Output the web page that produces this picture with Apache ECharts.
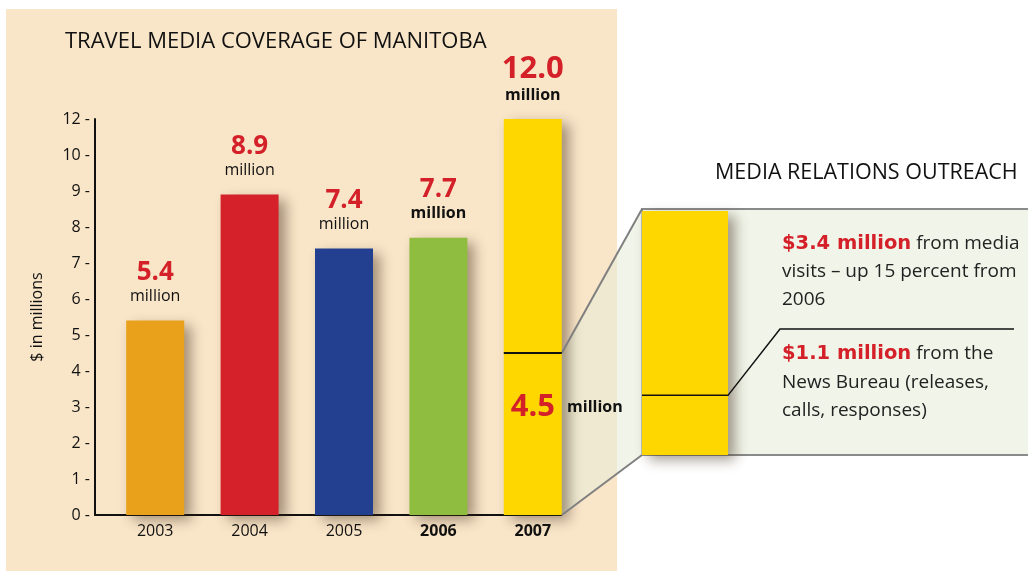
<!DOCTYPE html>
<html>
<head>
<meta charset="utf-8">
<script src="https://cdn.jsdelivr.net/npm/echarts@6/dist/echarts.min.js"></script>
<style>
html,body{margin:0;padding:0;background:#fff;}
#c{width:1028px;height:571px;}
</style>
</head>
<body>
<div id="c"></div>
<script>
// ---- data ----
const years = ['2003', '2004', '2005', '2006', '2007'];
const coverage = [5.4, 8.9, 7.4, 7.7, 12.0];
const outreach2007 = 4.5;
const mediaVisits = 3.4;
const newsBureau = 1.1;
const yTickLabels = ['0', '1', '2', '3', '4', '5', '6', '7', '8', '9', '10', '12'];

// ---- style ----
const FONT = 'Open Sans';
const RED = '#d42129';
const barColors = ['#e9a11b', '#d4212a', '#233f8f', '#8fbd40', '#fed700'];
const boldYear = [false, false, false, true, true];
const YELLOW = '#fed700';
const shadow = { shadowBlur: 12, shadowOffsetX: 7, shadowOffsetY: 5, shadowColor: 'rgba(60,40,20,0.45)' };

const chart = echarts.init(document.getElementById('c'), null, { renderer: 'canvas' });

const coverageData = coverage.map((v, i) => ({
  value: v,
  itemStyle: Object.assign({ color: barColors[i] }, shadow),
  label: {
    formatter: (i === 4 ? '{vb|' : '{v|') + v.toFixed(1) + '}\n' + (boldYear[i] ? '{mb|million}' : '{m|million}')
  }
}));

const option = {
  animation: false,
  textStyle: { fontFamily: FONT },
  title: {
    text: 'TRAVEL MEDIA COVERAGE OF MANITOBA',
    left: 60, top: 26,
    textStyle: { fontFamily: FONT, fontSize: 22, fontWeight: 'normal', color: '#111' }
  },
  grid: [
    { left: 108, width: 472, top: 119, height: 396 },
    { left: 95, width: 466, top: 119, height: 396 },
    { left: 642, width: 86, top: 211, height: 244 }
  ],
  xAxis: [
    {
      gridIndex: 0, type: 'category', data: years,
      axisLine: { show: false }, axisTick: { show: false },
      axisLabel: {
        margin: 8,
        formatter: (v, i) => boldYear[i] ? '{b|' + v + '}' : '{n|' + v + '}',
        rich: {
          n: { fontFamily: FONT, fontSize: 16, color: '#111' },
          b: { fontFamily: FONT, fontSize: 16, color: '#111', fontWeight: 'bold' }
        }
      }
    },
    {
      gridIndex: 1, type: 'value', min: 0, max: 1,
      axisLine: { show: true, lineStyle: { color: '#111', width: 2 } },
      axisTick: { show: false }, axisLabel: { show: false }, splitLine: { show: false }
    },
    {
      gridIndex: 2, type: 'category', data: ['2007'], show: false
    }
  ],
  yAxis: [
    { gridIndex: 0, type: 'value', min: 0, max: 11, interval: 1, show: false },
    {
      gridIndex: 1, type: 'value', min: 0, max: 11, interval: 1,
      name: '$ in millions', nameLocation: 'middle', nameGap: 50,
      nameTextStyle: { fontFamily: FONT, fontSize: 16, color: '#111' },
      axisLine: { show: true, lineStyle: { color: '#111', width: 2 } },
      axisTick: { show: false }, splitLine: { show: false },
      axisLabel: {
        margin: 5, fontFamily: FONT, fontSize: 16, color: '#111',
        formatter: v => yTickLabels[v] + ' -'
      }
    },
    { gridIndex: 2, type: 'value', min: 0, max: outreach2007, show: false }
  ],
  series: [
    {
      name: 'Travel media coverage', type: 'bar', xAxisIndex: 0, yAxisIndex: 0,
      barWidth: 58, data: coverageData, clip: true,
      label: {
        show: true, position: 'top', distance: 13, align: 'center',
        rich: {
          v: { fontFamily: FONT, fontSize: 26, fontWeight: 'bold', color: RED, lineHeight: 27, align: 'center' },
          vb: { fontFamily: FONT, fontSize: 31, fontWeight: 'bold', color: RED, lineHeight: 30, align: 'center' },
          m: { fontFamily: FONT, fontSize: 16, color: '#111', lineHeight: 22, align: 'center' },
          mb: { fontFamily: FONT, fontSize: 16, fontWeight: 'bold', color: '#111', lineHeight: 22, align: 'center' }
        }
      }
    },
    {
      name: 'Media relations outreach', type: 'bar', xAxisIndex: 0, yAxisIndex: 0,
      barWidth: 58, barGap: '-100%', z: 3,
      data: years.map((y, i) => i === 4 ? outreach2007 : null),
      itemStyle: { color: 'rgba(0,0,0,0)' },
      label: {
        show: true, position: [7, 54], align: 'left', verticalAlign: 'middle',
        formatter: '{v|' + outreach2007.toFixed(1) + '}{m|million}',
        rich: {
          v: { fontFamily: FONT, fontSize: 31, fontWeight: 'bold', color: RED },
          m: { fontFamily: FONT, fontSize: 16, fontWeight: 'bold', color: '#111', padding: [0, 0, 0, 12] }
        }
      }
    },
    {
      name: 'Outreach detail', type: 'bar', xAxisIndex: 2, yAxisIndex: 2,
      barWidth: 86, data: [mediaVisits + newsBureau],
      itemStyle: Object.assign({ color: YELLOW }, shadow), z: 3
    }
  ]
};
chart.setOption(option);

// ---- decorations computed from the scales ----
const halfBar = 29;
const p45 = chart.convertToPixel({ xAxisIndex: 0, yAxisIndex: 0 }, ['2007', outreach2007]);
const p0 = chart.convertToPixel({ xAxisIndex: 0, yAxisIndex: 0 }, ['2007', 0]);
const barL = p45[0] - halfBar, barR = p45[0] + halfBar;
const zTop = chart.convertToPixel({ xAxisIndex: 2, yAxisIndex: 2 }, ['2007', outreach2007]);
const zSplit = chart.convertToPixel({ xAxisIndex: 2, yAxisIndex: 2 }, ['2007', newsBureau]);
const zBot = chart.convertToPixel({ xAxisIndex: 2, yAxisIndex: 2 }, ['2007', 0]);
const zL = zTop[0] - 43, zR = zTop[0] + 43;
const boxTop = zTop[1] - 2, boxBot = zBot[1];

const BODY = '19px "Open Sans"';
const BOLD = 'bold 19.5px "DejaVu Sans"';
chart.setOption({
  graphic: [
    { type: 'rect', z: -20, silent: true, shape: { x: 6, y: 9, width: 611, height: 570 }, style: { fill: '#f9e5c8' } },
    { type: 'rect', z: -10, silent: true, shape: { x: zL, y: boxTop, width: 420, height: boxBot - boxTop }, style: { fill: '#f1f5e9', stroke: '#8a8a8a', lineWidth: 2 } },
    { type: 'polygon', z: -5, silent: true, shape: { points: [[barR, p45[1]], [zL, boxTop], [zL, boxBot], [barR, p0[1]]] }, style: { fill: 'rgba(230,237,215,0.55)' } },
    { type: 'polyline', z: 5, silent: true, shape: { points: [[barR, p45[1]], [zL, boxTop]] }, style: { stroke: '#808080', lineWidth: 2 } },
    { type: 'polyline', z: 5, silent: true, shape: { points: [[barR, p0[1]], [zL, boxBot]] }, style: { stroke: '#808080', lineWidth: 2 } },
    { type: 'line', z: 20, silent: true, shape: { x1: barL, y1: p45[1], x2: barR, y2: p45[1] }, style: { stroke: '#111', lineWidth: 2 } },
    { type: 'polyline', z: 20, silent: true, shape: { points: [[zL, zSplit[1]], [zR, zSplit[1]], [780, 329], [1014, 329]] }, style: { stroke: '#111', lineWidth: 1.5, fill: null } },
    { type: 'text', z: 20, silent: true, left: 715, top: 162, style: { text: 'MEDIA RELATIONS OUTREACH', font: '21.5px "Open Sans"', fill: '#111' } },
    { type: 'text', z: 20, silent: true, x: 782, y: 254, style: { text: '{r|$3.4 million} from media', verticalAlign: 'bottom', font: BODY, fill: '#222', rich: { r: { font: BOLD, fill: RED } } } },
    { type: 'text', z: 20, silent: true, x: 782, y: 281, style: { text: 'visits \u2013 up 15 percent from', verticalAlign: 'bottom', font: BODY, fill: '#222' } },
    { type: 'text', z: 20, silent: true, x: 782, y: 309, style: { text: '2006', verticalAlign: 'bottom', font: BODY, fill: '#222' } },
    { type: 'text', z: 20, silent: true, x: 782, y: 364, style: { text: '{r|$1.1 million} from the', verticalAlign: 'bottom', font: BODY, fill: '#222', rich: { r: { font: BOLD, fill: RED } } } },
    { type: 'text', z: 20, silent: true, x: 782, y: 392, style: { text: 'News Bureau (releases,', verticalAlign: 'bottom', font: BODY, fill: '#222' } },
    { type: 'text', z: 20, silent: true, x: 782, y: 420, style: { text: 'calls, responses)', verticalAlign: 'bottom', font: BODY, fill: '#222' } }
  ]
});
</script>
</body>
</html>
